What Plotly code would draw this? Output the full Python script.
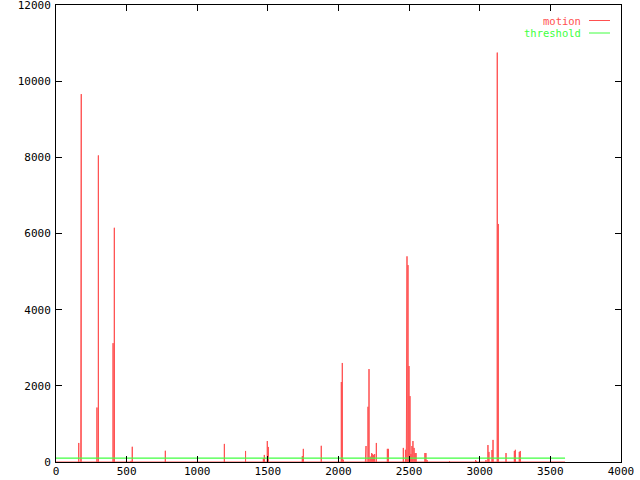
import plotly.graph_objects as go

# ---- data ----
frame_first = 0
frame_last = 3604
threshold_value = 100

frames = [161, 175, 179, 290, 300, 404, 413, 531, 540, 774, 1192, 1342, 1468, 1475,
          1496, 1503, 1744, 1751, 1878, 2020, 2027, 2034, 2190, 2195, 2209, 2216,
          2225, 2235, 2242, 2249, 2256, 2268, 2346, 2353, 2459, 2474, 2480, 2485,
          2492, 2499, 2506, 2513, 2520, 2527, 2535, 2542, 2549, 2612, 2619, 2627,
          2786, 2970, 2977, 3044, 3058, 3065, 3087, 3094, 3124, 3131, 3186, 3245,
          3252, 3280, 3287]
motion = [500, 375, 9660, 1430, 8050, 3120, 6150, 30, 400, 295, 475, 290, 100, 185,
          550, 395, 155, 345, 425, 2100, 2600, 60, 100, 420, 1450, 2440,
          140, 235, 210, 180, 210, 500, 345, 345, 370, 320, 1420, 5400,
          5170, 2520, 1730, 210, 420, 550, 370, 235, 235, 235, 235, 50,
          25, 50, 30, 50, 445, 265, 315, 580, 10750, 6250, 235, 290,
          320, 265, 290]

x_ticks = [0, 500, 1000, 1500, 2000, 2500, 3000, 3500, 4000]
y_ticks = [0, 2000, 4000, 6000, 8000, 10000, 12000]

RED = "#ff5050"
GREEN = "#40ff40"
FONT = "DejaVu Sans Mono"

# impulses drawn as one polyline along zero
ix, iy = [frame_first], [0]
for f, v in zip(frames, motion):
    ix += [f, f, f]
    iy += [0, v, 0]
ix.append(frame_last)
iy.append(0)

fig = go.Figure()
fig.add_trace(go.Scatter(x=ix, y=iy, mode="lines", name="motion",
                         line=dict(color=RED, width=1), showlegend=False,
                         hoverinfo="skip"))
fig.add_trace(go.Scatter(x=[frame_first, frame_last],
                         y=[threshold_value, threshold_value], mode="lines",
                         name="threshold", line=dict(color=GREEN, width=1.3),
                         showlegend=False))

axis_common = dict(showline=True, linecolor="black", linewidth=1, mirror="ticks",
                   ticks="inside", ticklen=6, tickcolor="black", showgrid=False,
                   zeroline=False, automargin=False, ticklabeloverflow="allow",
                   tickfont=dict(family=FONT, size=11, color="black"))
fig.update_xaxes(range=[0, 4000], tickvals=x_ticks,
                 ticktext=[str(t) for t in x_ticks], ticklabelstandoff=-1,
                 **axis_common)
fig.update_yaxes(range=[0, 12000], tickvals=y_ticks,
                 ticktext=[str(t) for t in y_ticks], ticklabelstandoff=2,
                 **axis_common)

# gnuplot-style legend: text then sample line
legend_items = [("motion", RED), ("threshold", GREEN)]
for i, (name, col) in enumerate(legend_items):
    ypix = 20.5 + i * 12.5
    yp = 1 - (ypix - 5) / 457
    fig.add_annotation(xref="paper", yref="paper", x=(582 - 56) / 565, y=yp,
                       text=name, showarrow=False, xanchor="right", yanchor="middle",
                       height=10, borderpad=0,
                       font=dict(family=FONT, size=10.5, color=col))
    fig.add_shape(type="line", xref="paper", yref="paper",
                  x0=(589 - 56) / 565, x1=(610 - 56) / 565, y0=yp, y1=yp,
                  line=dict(color=col, width=1))

fig.update_layout(width=640, height=480, margin=dict(l=56, r=19, t=5, b=18),
                  plot_bgcolor="white", paper_bgcolor="white", showlegend=False)

fig.write_html("out.html", config={"displayModeBar": False},
               post_script="document.body.style.margin='0';")
